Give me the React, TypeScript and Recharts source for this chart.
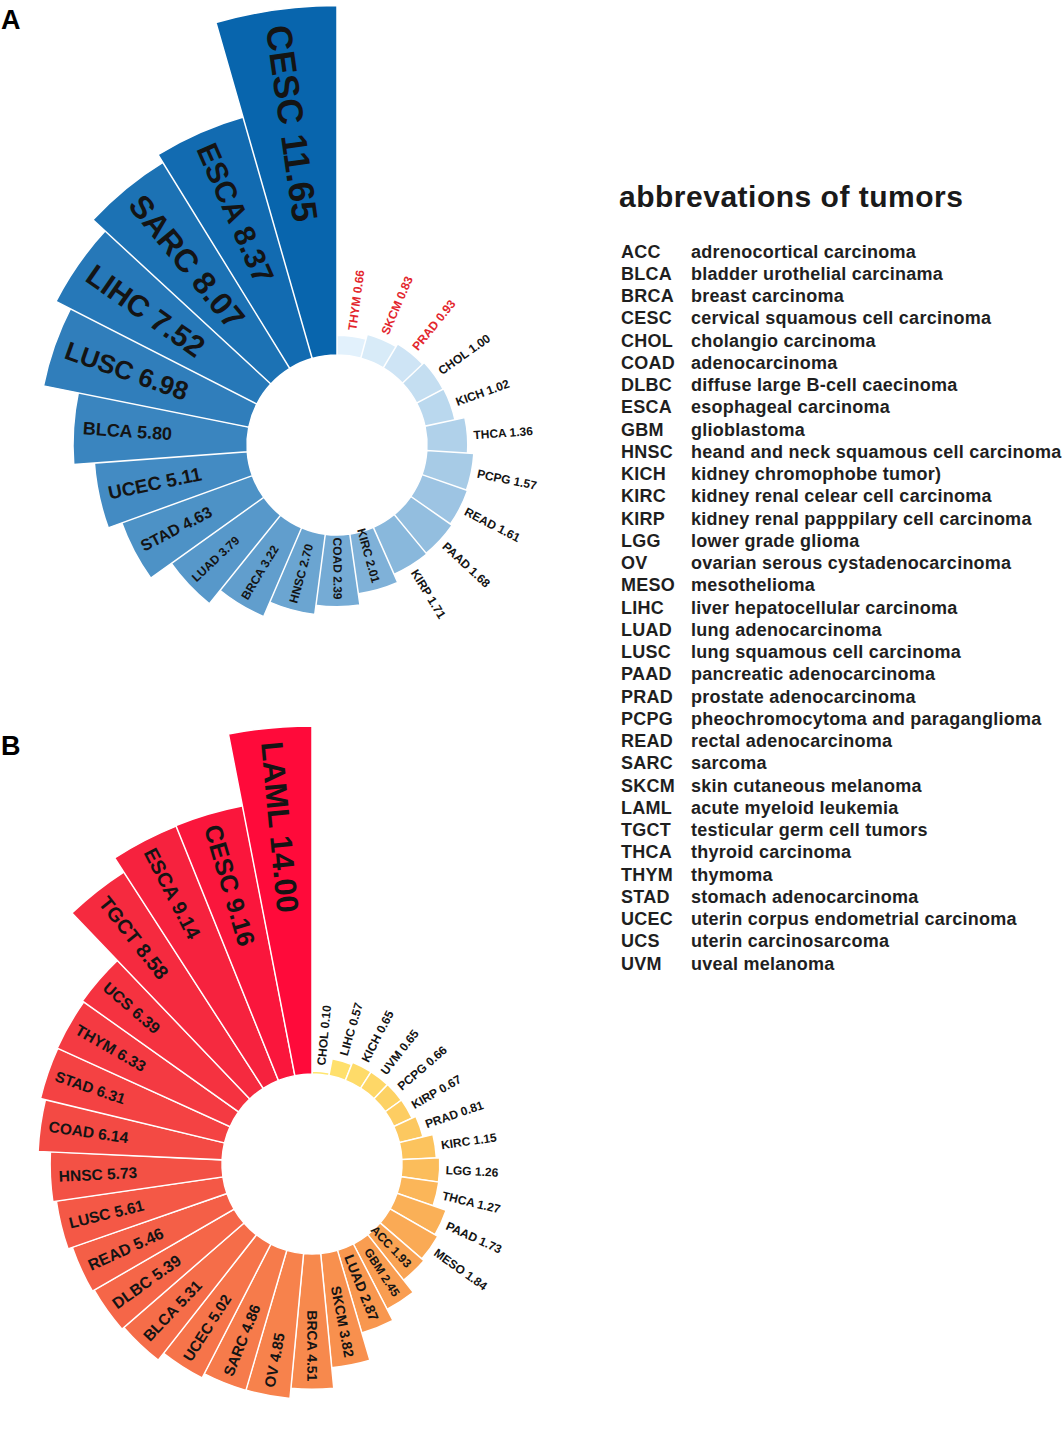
import React from 'react';
import { RadialBarChart, RadialBar, PolarAngleAxis, PolarRadiusAxis, Sector } from 'recharts';

// ---------- Data ----------
const namesA = ['THYM', 'SKCM', 'PRAD', 'CHOL', 'KICH', 'THCA', 'PCPG', 'READ', 'PAAD', 'KIRP', 'KIRC', 'COAD', 'HNSC', 'BRCA', 'LUAD', 'STAD', 'UCEC', 'BLCA', 'LUSC', 'LIHC', 'SARC', 'ESCA', 'CESC'];
const valuesA = [0.66, 0.83, 0.93, 1.0, 1.02, 1.36, 1.57, 1.61, 1.68, 1.71, 2.01, 2.39, 2.7, 3.22, 3.79, 4.63, 5.11, 5.8, 6.98, 7.52, 8.07, 8.37, 11.65];
const highlightA = ['THYM', 'SKCM', 'PRAD'];

const namesB = ['CHOL', 'LIHC', 'KICH', 'UVM', 'PCPG', 'KIRP', 'PRAD', 'KIRC', 'LGG', 'THCA', 'PAAD', 'MESO', 'ACC', 'GBM', 'LUAD', 'SKCM', 'BRCA', 'OV', 'SARC', 'UCEC', 'BLCA', 'DLBC', 'READ', 'LUSC', 'HNSC', 'COAD', 'STAD', 'THYM', 'UCS', 'TGCT', 'ESCA', 'CESC', 'LAML'];
const valuesB = [0.1, 0.57, 0.65, 0.65, 0.66, 0.67, 0.81, 1.15, 1.26, 1.27, 1.73, 1.84, 1.93, 2.45, 2.87, 3.82, 4.51, 4.85, 4.86, 5.02, 5.31, 5.39, 5.46, 5.61, 5.73, 6.14, 6.31, 6.33, 6.39, 8.58, 9.14, 9.16, 14.0];

const radiusTicks = [0, 12];

const legendCodes = ['ACC', 'BLCA', 'BRCA', 'CESC', 'CHOL', 'COAD', 'DLBC', 'ESCA', 'GBM', 'HNSC', 'KICH', 'KIRC', 'KIRP', 'LGG', 'OV', 'MESO', 'LIHC', 'LUAD', 'LUSC', 'PAAD', 'PRAD', 'PCPG', 'READ', 'SARC', 'SKCM', 'LAML', 'TGCT', 'THCA', 'THYM', 'STAD', 'UCEC', 'UCS', 'UVM'];
const legendNames = ['adrenocortical carcinoma', 'bladder urothelial carcinama', 'breast carcinoma', 'cervical squamous cell carcinoma', 'cholangio carcinoma', 'adenocarcinoma', 'diffuse large B-cell caecinoma', 'esophageal carcinoma', 'glioblastoma', 'heand and neck squamous cell carcinoma', 'kidney chromophobe tumor)', 'kidney renal celear cell carcinoma', 'kidney renal papppilary cell carcinoma', 'lower grade glioma', 'ovarian serous cystadenocarcinoma', 'mesothelioma', 'liver hepatocellular carcinoma', 'lung adenocarcinoma', 'lung squamous cell carcinoma', 'pancreatic adenocarcinoma', 'prostate adenocarcinoma', 'pheochromocytoma and paraganglioma', 'rectal adenocarcinoma', 'sarcoma', 'skin cutaneous melanoma', 'acute myeloid leukemia', 'testicular germ cell tumors', 'thyroid carcinoma', 'thymoma', 'stomach adenocarcinoma', 'uterin corpus endometrial carcinoma', 'uterin carcinosarcoma', 'uveal melanoma'];

// ---------- Styles ----------
const labelSizeA = [12, 12, 12, 12, 12, 12, 12, 12, 12, 12, 12, 12, 12, 12, 12, 16, 19, 18, 26, 30, 32, 30, 36];
const labelSizeB = [12, 12, 12, 12, 12, 12, 12, 12, 12, 12, 12, 12, 12, 12, 14, 14, 14, 15, 15, 15, 15.5, 16, 16, 15.5, 15.5, 15.5, 15, 15.5, 16, 20, 20, 25, 31];

const FONT = '"Liberation Sans", Arial, Helvetica, sans-serif';

const stopsA: [number, number[]][] = [
  [0, [226, 241, 252]],
  [1, [8, 101, 173]],
];
const stopsB: [number, number[]][] = [
  [0, [255, 229, 110]],
  [0.22, [252, 195, 93]],
  [0.44, [248, 150, 79]],
  [0.78, [243, 74, 68]],
  [0.94, [246, 33, 62]],
  [1, [255, 10, 58]],
];

function colorAt(stops: [number, number[]][], t: number) {
  for (let i = 0; i < stops.length - 1; i++) {
    const [t0, c0] = stops[i];
    const [t1, c1] = stops[i + 1];
    if (t >= t0 && t <= t1) {
      const f = (t - t0) / (t1 - t0 || 1);
      const c = c0.map((v, k) => Math.round(v + (c1[k] - v) * f));
      return `rgb(${c[0]},${c[1]},${c[2]})`;
    }
  }
  const c = stops[stops.length - 1][1];
  return `rgb(${c[0]},${c[1]},${c[2]})`;
}

function buildRows(names: string[], values: number[], sizes: number[], stops: [number, number[]][], highlight: string[]) {
  return names.map((name, i) => ({
    name,
    value: values[i],
    color: colorAt(stops, i / (names.length - 1)),
    size: sizes[i],
    labelColor: highlight.includes(name) ? '#e3262d' : '#141414',
  }));
}

const rowsA = buildRows(namesA, valuesA, labelSizeA, stopsA, highlightA);
const rowsB = buildRows(namesB, valuesB, labelSizeB, stopsB, []);

function makeShape(maxR: number) {
  return (props: any) => {
    const { cx, cy, innerRadius, outerRadius, startAngle, endAngle } = props;
    const p = props.payload || props;
    const oR = Math.min(outerRadius, maxR);
    const mid = (startAngle + endAngle) / 2;
    const ux = Math.cos((mid * Math.PI) / 180);
    const uy = -Math.sin((mid * Math.PI) / 180);
    const theta = (((90 - mid) % 360) + 360) % 360;
    const right = theta <= 180.5;
    const size = p.size;
    const inside = p.value >= 1.9;
    let r: number;
    let anchor: string;
    if (inside) {
      r = oR - (size * 0.35 + 3);
      anchor = right ? 'end' : 'start';
    } else {
      r = oR + 6;
      anchor = 'start';
    }
    const rot = right ? -mid : 180 - mid;
    const x = cx + r * ux;
    const y = cy + r * uy;
    return (
      <g>
        <Sector
          cx={cx}
          cy={cy}
          innerRadius={innerRadius}
          outerRadius={oR}
          startAngle={startAngle}
          endAngle={endAngle}
          fill={p.color}
          stroke="#ffffff"
          strokeWidth={1.5}
        />
        <text
          x={x}
          y={y}
          transform={`rotate(${rot} ${x} ${y})`}
          textAnchor={anchor as any}
          dominantBaseline="central"
          fontSize={size}
          fontWeight="bold"
          fill={p.labelColor}
          fontFamily={FONT}
        >
          {`${p.name} ${p.value.toFixed(2)}`}
        </text>
      </g>
    );
  };
}

function RoseChart({ rows, width, height, cx, cy, maxR }: any) {
  const inner = 90;
  const outer = 450; // 30 px per unit over the 0..12 radius domain
  // the category band is drawn counter-clockwise from its start, so begin one band before 12 o'clock
  const band = 360 / rows.length;
  const start = 90 - band;
  return (
    <RadialBarChart
      width={width}
      height={height}
      data={rows}
      cx={cx}
      cy={cy}
      innerRadius={inner}
      outerRadius={outer}
      startAngle={start}
      endAngle={start - 360}
      layout="centric"
      barCategoryGap={0}
      barGap={0}
      margin={{ top: 0, right: 0, bottom: 0, left: 0 }}
    >
      <PolarAngleAxis type="category" dataKey="name" tick={false} axisLine={false} tickLine={false} />
      <PolarRadiusAxis type="number" domain={radiusTicks} allowDataOverflow tick={false} axisLine={false} tickLine={false} />
      <RadialBar dataKey="value" isAnimationActive={false} shape={makeShape(maxR)} />
    </RadialBarChart>
  );
}

export default function App() {
  return (
    <div style={{ position: 'absolute', left: 0, top: 0, width: 1064, height: 1433, background: '#fff', fontFamily: FONT }}>
      <div style={{ position: 'absolute', left: 0, top: 0 }}>
        <RoseChart rows={rowsA} width={560} height={690} cx={337} cy={445} maxR={450} />
      </div>
      <div style={{ position: 'absolute', left: 0, top: 700 }}>
        <RoseChart rows={rowsB} width={560} height={733} cx={312} cy={464} maxR={438} />
      </div>
      <svg style={{ position: 'absolute', left: 0, top: 0 }} width={60} height={800}>
        <text x={1} y={29} fontSize={27} fontWeight="bold" fontFamily={FONT} fill="#000">A</text>
        <text x={1} y={755} fontSize={27} fontWeight="bold" fontFamily={FONT} fill="#000">B</text>
      </svg>
      <svg style={{ position: 'absolute', left: 600, top: 160 }} width={464} height={830}>
        <text x={19} y={47} fontSize={30} fontWeight="bold" fontFamily={FONT} fill="#1a1a1a" letterSpacing={0.5}>
          abbrevations of tumors
        </text>
        {legendCodes.map((code, i) => (
          <g key={code}>
            <text x={21} y={97.5 + i * 22.25} fontSize={18} fontWeight="bold" fontFamily={FONT} fill="#1f1f1f" letterSpacing={0.25}>
              {code}
            </text>
            <text x={91} y={97.5 + i * 22.25} fontSize={18} fontWeight="bold" fontFamily={FONT} fill="#1f1f1f" letterSpacing={0.25}>
              {legendNames[i]}
            </text>
          </g>
        ))}
      </svg>
    </div>
  );
}
